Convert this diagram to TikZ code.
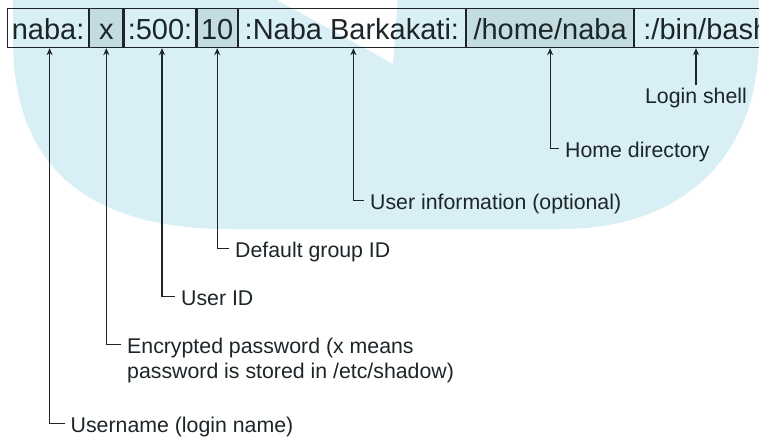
\documentclass[tikz,border=0pt]{standalone}
\usepackage{fontspec}
\setmainfont{Liberation Sans}
\usetikzlibrary{arrows.meta}
\definecolor{wm}{HTML}{D8EFF5}
\definecolor{shadebox}{HTML}{C3DCE2}
\definecolor{ink}{HTML}{1C2528}
\begin{document}
\begin{tikzpicture}[x=1pt,y=-1pt,
  seg/.style={draw=ink, line width=1.2pt, inner sep=0pt, text height=31pt, text depth=8pt,
    anchor=north west, font=\fontsize{29}{34}\selectfont, text=ink},
  shaded/.style={fill=shadebox},
  lbl/.style={anchor=base west, inner sep=0pt, font=\fontsize{21.3}{25}\selectfont, text=ink},
  arr/.style={draw=ink, line width=1.1pt, -{Stealth[length=7pt,width=6pt]}}]
\useasboundingbox (0,0) rectangle (759,436);
\fill[white] (0,0) rectangle (759,436);
% watermark
\fill[wm] (13,-5) -- (268,-5) -- (393,64) -- (398,-5) -- (770,-5) -- (759,40)
  .. controls (758,150) and (690,229) .. (560,229) -- (230,229)
  .. controls (80,229) and (13,160) .. (13,40) -- cycle;
% record fields
\node[seg, minimum width=81pt] (s1) at (7,8) {naba:};
\node[seg, shaded, minimum width=33pt] (s2) at (s1.north east) {x};
\node[seg, minimum width=72pt] (s3) at (s2.north east) {:500:};
\node[seg, shaded, minimum width=40pt] (s4) at (s3.north east) {10};
\node[seg, minimum width=227pt] (s5) at (s4.north east) {:Naba Barkakati:};
\node[seg, shaded, minimum width=167pt] (s6) at (s5.north east) {/home/naba};
\node[seg, minimum width=143pt] (s7) at (s6.north east) {:/bin/bash};
% labels
\node[lbl, anchor=base] (l7) at (696,103) {Login shell};
\node[lbl] (l6) at (565,157) {Home directory};
\node[lbl] (l5) at (370,209) {User information (optional)};
\node[lbl] (l4) at (235,257) {Default group ID};
\node[lbl] (l3) at (181,305) {User ID};
\node[lbl] (l2) at (127,353) {\parbox[t]{400pt}{Encrypted password (x means\\password is stored in /etc/shadow)}};
\node[lbl] (l1) at (70.5,432) {Username (login name)};
% connectors
\draw[arr] ([yshift=2pt]l7.north) -- (l7.north |- s7.south);
\draw[arr] ([xshift=-6pt,yshift=8.5pt]l6.base west) -| (s6.south);
\draw[arr] ([xshift=-6pt,yshift=8.5pt]l5.base west) -| ([xshift=1.5pt]s5.south);
\draw[arr] ([xshift=-6pt,yshift=8.5pt]l4.base west) -| (s4.south);
\draw[arr] ([xshift=-6pt,yshift=8.5pt]l3.base west) -| ([xshift=2pt]s3.south);
\draw[arr] ([xshift=-6pt,yshift=8.5pt]l2.base west) -| (s2.south);
\draw[arr] ([xshift=-6pt,yshift=8.5pt]l1.base west) -| ([xshift=1.5pt]s1.south);
\end{tikzpicture}
\end{document}
